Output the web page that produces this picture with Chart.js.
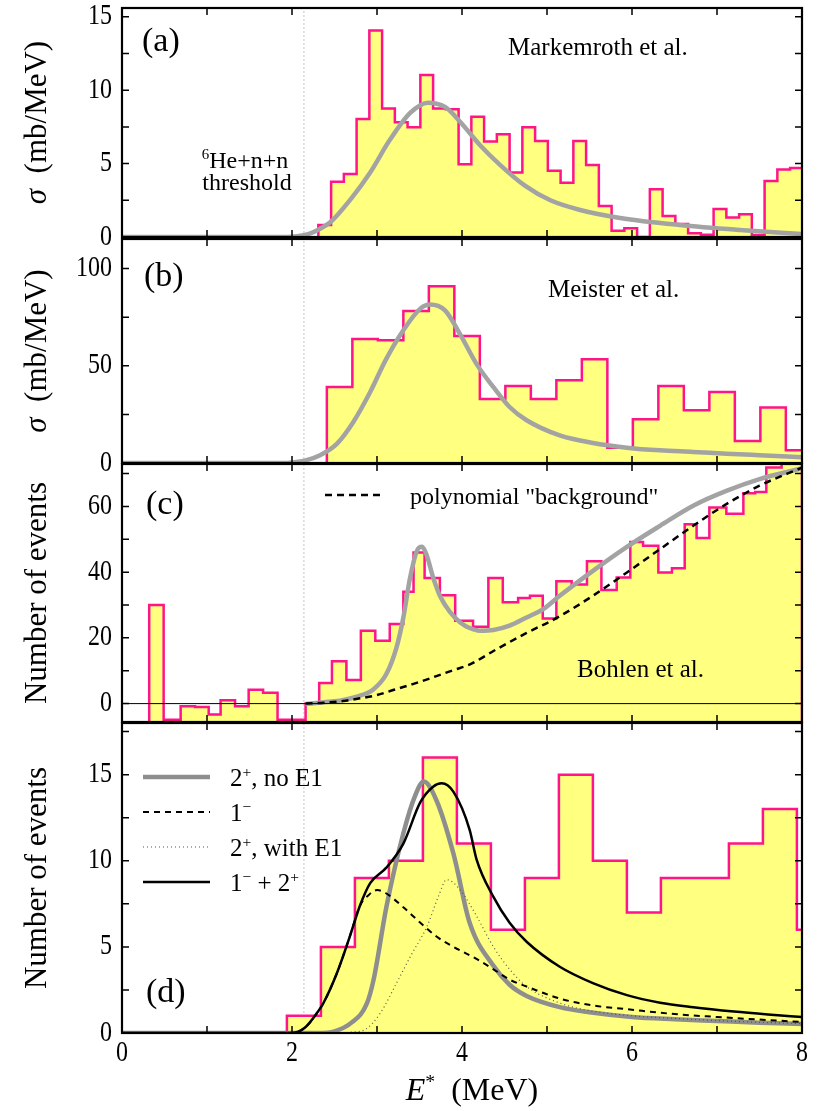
<!DOCTYPE html>
<html>
<head>
<meta charset="utf-8">
<script src="https://cdn.jsdelivr.net/npm/chart.js@4.4.1/dist/chart.umd.min.js"></script>
<style>
  html, body { margin: 0; padding: 0; background: #fff; }
  #wrap { position: relative; width: 817px; height: 1111px; overflow: hidden; }
  #wrap canvas { position: absolute; left: 0; }
</style>
</head>
<body>
<div id="wrap">
  <canvas id="pa"></canvas>
  <canvas id="pb"></canvas>
  <canvas id="pc"></canvas>
  <canvas id="pd"></canvas>
</div>
<script>
// ---- data (E* in MeV) ----
const threshold = 2.14;               // 6He+n+n threshold
const xRange = [0, 8];
const xTickMarks = [0, 1, 2, 3, 4, 5, 6, 7, 8];
const xTickLabels = [0, 2, 4, 6, 8];

// (a) Markemroth et al., sigma in mb/MeV
const aBinStart = 2.31, aBinWidth = 0.15;
const aCounts = [0.82, 3.77, 4.3, 8.04, 14.06, 8.75, 7.82, 7.48, 11.04, 8.75, 8.7, 4.95, 8.2, 6.5, 7.0, 4.4,
  7.48, 6.54, 4.52, 3.7, 6.54, 4.9, 2.11, 0.43, 0.6, 0, 3.25, 1.43, 0.89, 0.25, 0.15, 1.9, 1.32, 1.55, 0.14,
  3.82, 4.6, 4.7];
const aFitE = [0, 1.9, 2.0, 2.1, 2.2, 2.31, 2.45, 2.68, 2.92, 3.15, 3.39, 3.6, 3.8, 3.98, 4.21, 4.45, 4.74,
  5.04, 5.39, 5.86, 6.56, 7.27, 8.0];
const aFitY = [0, 0, 0.02, 0.08, 0.22, 0.5, 1.0, 2.5, 4.4, 6.6, 8.45, 9.15, 8.86, 7.84, 6.27, 4.9, 3.5, 2.5,
  1.84, 1.3, 0.82, 0.48, 0.2];
const aTickMarks = [0, 2.5, 5, 7.5, 10, 12.5, 15];
const aTickLabels = [0, 5, 10, 15];

// (b) Meister et al., sigma in mb/MeV
const bBinStart = 2.41, bBinWidth = 0.3;
const bCounts = [39.1, 63.8, 63.1, 78.2, 90.9, 65.3, 32.9, 39.6, 32.9, 42.5, 53.3, 7.9, 22.5, 39.6, 27.1,
  36.5, 11.3, 28.5, 6.5];
const bFitE = [0, 1.9, 2.0, 2.15, 2.33, 2.53, 2.72, 2.92, 3.1, 3.31, 3.51, 3.62, 3.8, 3.98, 4.17, 4.37, 4.56,
  4.76, 5.15, 5.54, 5.94, 6.33, 6.72, 7.11, 7.5, 8.0];
const bFitY = [0, 0, 0.3, 1.2, 4, 10, 21, 36.5, 52.8, 68.3, 79.4, 81.5, 78.5, 66, 51, 39, 28.8, 22, 14.2,
  10.3, 7.9, 6.5, 5.7, 4.8, 4.0, 3.0];
const bTickMarks = [0, 25, 50, 75, 100];
const bTickLabels = [0, 50, 100];

// (c) Bohlen et al., number of events
const cEdges = [0.32, 0.49, 0.69, 0.86, 1.02, 1.16, 1.33, 1.49, 1.66, 1.83, 2.00, 2.16, 2.32, 2.47, 2.64,
  2.81, 2.98, 3.15, 3.31, 3.43, 3.56, 3.74, 3.92, 4.13, 4.31, 4.48, 4.66, 4.80, 4.95, 5.11, 5.29, 5.47, 5.64,
  5.82, 5.98, 6.13, 6.31, 6.47, 6.62, 6.76, 6.91, 7.11, 7.31, 7.45, 7.58, 7.76, 8.00];
const cCounts = [30, -4.9, -0.8, -1.0, -3.3, 1.0, -0.8, 4.2, 3.3, -4.9, -4.9, 0, 6.3, 12.9, 7.2, 22.2, 19.1,
  24.2, 34.0, 46.0, 38.2, 33.0, 25.2, 23.4, 38.2, 30.8, 32.1, 32.8, 25.9, 37.2, 36.2, 43.3, 34.6, 38.4, 49.2,
  48.0, 39.9, 41.2, 54.6, 50.4, 59.7, 57.8, 64.0, 64.4, 71.8, 77];
const cFitE = [2.16, 2.37, 2.56, 2.76, 2.96, 3.11, 3.23, 3.31, 3.39, 3.47, 3.53, 3.58, 3.66, 3.74, 3.86, 3.98,
  4.09, 4.21, 4.37, 4.56, 4.76, 4.96, 5.15, 5.54, 5.94, 6.33, 6.72, 7.11, 7.5, 8.0];
const cFitY = [-0.1, 0.4, 0.9, 2.1, 4.4, 9.0, 17.1, 26.2, 38.4, 46.5, 47.7, 45.5, 38.4, 32.8, 27.8, 24.7,
  23.0, 22.2, 22.4, 23.7, 26.2, 28.8, 32.8, 40.4, 47.7, 54.1, 60.2, 64.7, 68.3, 71.6];
const cBackE = [2.16, 2.4, 2.6, 2.8, 3.0, 3.2, 3.43, 3.66, 3.9, 4.1, 4.37, 4.76, 5.11, 5.54, 5.94, 6.33, 6.72,
  7.11, 7.5, 8.0];
const cBackY = [0, 0.3, 0.8, 1.6, 2.6, 4.2, 6.0, 8.0, 10.2, 12.0, 16.0, 21.5, 26.0, 32.8, 39.9, 47.0, 54.1,
  60.7, 66.3, 71.8];
const cTickMarks = [0, 10, 20, 30, 40, 50, 60, 70];
const cTickLabels = [0, 20, 40, 60];

// (d) number of events with 1- / 2+ fits
const dBinStart = 1.94, dBinWidth = 0.4;
const dCounts = [1, 5, 9, 10, 16, 11, 6, 9, 15, 10, 7, 9, 9, 11, 13, 6];
const dNoE1E = [0, 2.3, 2.5, 2.7, 2.88, 2.96, 3.11, 3.31, 3.45, 3.55, 3.70, 3.9, 4.09, 4.37, 4.56, 4.76,
  5.15, 5.5, 6.0, 6.5, 7.0, 7.5, 8.0];
const dNoE1Y = [0, 0, 0.1, 0.6, 1.7, 3.1, 7.3, 11.6, 13.8, 14.6, 13.5, 10.4, 6.4, 3.9, 2.8, 2.15, 1.5, 1.2,
  0.93, 0.8, 0.7, 0.6, 0.52];
const dMinusE = [0, 2.0, 2.15, 2.3, 2.37, 2.53, 2.68, 2.8, 2.9, 3.0, 3.11, 3.31, 3.51, 3.7, 3.9, 4.17, 4.37,
  4.56, 4.76, 5.15, 5.54, 6.0, 6.5, 7.0, 7.5, 8.0];
const dMinusY = [0, 0, 0.3, 1.2, 1.74, 3.5, 5.6, 7.4, 8.0, 8.3, 8.1, 7.3, 6.4, 5.6, 5.0, 4.3, 3.7, 3.1, 2.7,
  2.0, 1.6, 1.35, 1.1, 0.93, 0.78, 0.64];
const dWithE1E = [2.55, 2.7, 2.86, 3.04, 3.23, 3.41, 3.59, 3.72, 3.82, 3.98, 4.17, 4.37, 4.56, 4.76, 5.15,
  5.5, 6.0, 6.5, 7.0, 7.5, 8.0];
const dWithE1Y = [0, 0.05, 0.2, 1.16, 2.9, 4.6, 6.2, 7.9, 8.9, 8.3, 6.8, 5.0, 3.7, 2.7, 1.74, 1.3, 1.0, 0.85,
  0.72, 0.62, 0.55];
const dSumE = [0, 2.0, 2.15, 2.3, 2.37, 2.53, 2.68, 2.8, 2.92, 3.11, 3.31, 3.51, 3.66, 3.76, 3.9, 4.09, 4.17,
  4.37, 4.56, 4.76, 5.15, 5.54, 5.94, 6.33, 6.72, 7.2, 7.6, 8.0];
const dSumY = [0, 0, 0.3, 1.2, 1.74, 3.5, 5.6, 7.4, 8.7, 9.6, 11.0, 13.4, 14.3, 14.5, 14.0, 11.8, 10.1, 7.9,
  6.4, 5.3, 3.85, 2.9, 2.2, 1.76, 1.5, 1.25, 1.08, 0.93];
const dTickMarks = [0, 2.5, 5, 7.5, 10, 12.5, 15, 17.5];
const dTickLabels = [0, 5, 10, 15];

// ---- helpers ----
const serif = '"Liberation Serif", "DejaVu Serif", serif';
const pink = '#ff1589', yellow = '#ffff80', gray = '#a3a3a3';
const tickStretch = 1.2;   // tick numbers are drawn a bit taller than wide

function uniformEdges(start, width, n) {
  const e = [];
  for (let i = 0; i <= n; i++) e.push(start + i * width);
  return e;
}
function hist(edges, counts, base, leadX) {
  const pts = leadX === undefined ? [] : [{x: leadX, y: base}];
  pts.push({x: edges[0], y: base});
  counts.forEach((c, i) => pts.push({x: edges[i], y: c}));
  const n = counts.length;
  pts.push({x: edges[n], y: counts[n - 1]});
  pts.push({x: edges[n], y: base});
  return pts;
}
function curve(E, Y) { return E.map((e, i) => ({x: e, y: Y[i]})); }
function vline(x, lo, hi) { return [{x: x, y: lo}, {x: x, y: hi}]; }

function histSet(data) {
  return {data, borderColor: pink, borderWidth: 2.5, backgroundColor: yellow, fill: 'start',
    stepped: true, borderJoinStyle: 'miter'};
}
function fitSet(data, color, width, dash) {
  return {data, borderColor: color, borderWidth: width, borderDash: dash || [],
    fill: false, cubicInterpolationMode: 'monotone'};
}
function threshSet(lo, hi) {
  return {data: vline(threshold, lo, hi), borderColor: '#c4c4c4', borderWidth: 1, borderDash: [2, 2], fill: false};
}

// text with italic / superscript runs
function richText(ctx, parts, x, y, size, align) {
  const runs = parts.map(p => {
    const t = Array.isArray(p) ? p[0] : p;
    const f = Array.isArray(p) ? p[1] : '';
    const s = f.includes('s') ? size * 0.62 : size;
    const font = (f.includes('i') ? 'italic ' : '') + s + 'px ' + serif;
    ctx.font = font;
    return {t, font, w: ctx.measureText(t).width, dy: f.includes('s') ? -size * 0.38 : 0};
  });
  const total = runs.reduce((s, r) => s + r.w, 0);
  let cx = align === 'center' ? x - total / 2 : x;
  ctx.textAlign = 'left';
  runs.forEach(r => { ctx.font = r.font; ctx.fillText(r.t, cx, y + r.dy); cx += r.w; });
}
function tickText(ctx, txt, x, y, align) {
  ctx.save();
  ctx.translate(x, y);
  ctx.scale(1, tickStretch);
  ctx.textAlign = align;
  ctx.textBaseline = 'middle';
  ctx.font = '24px ' + serif;
  ctx.fillText(txt, 0, 0);
  ctx.restore();
}

// frame, inward ticks, tick labels, annotations, legends
const decoPlugin = {
  id: 'deco',
  afterDraw(chart, args, o) {
    const {ctx, chartArea: a, scales: {x, y}} = chart;
    ctx.save();
    ctx.strokeStyle = '#000';
    ctx.lineWidth = 1.5;
    ctx.beginPath();
    xTickMarks.forEach(v => {
      const px = x.getPixelForValue(v);
      ctx.moveTo(px, a.top); ctx.lineTo(px, a.top + 7);
      ctx.moveTo(px, a.bottom); ctx.lineTo(px, a.bottom - 7);
    });
    o.yTicks.forEach(v => {
      const py = y.getPixelForValue(v);
      ctx.moveTo(a.left, py); ctx.lineTo(a.left + 7, py);
      ctx.moveTo(a.right, py); ctx.lineTo(a.right - 7, py);
    });
    ctx.stroke();
    ctx.lineWidth = 2.2;
    ctx.strokeRect(a.left, a.top, a.right - a.left, a.bottom - a.top);

    ctx.fillStyle = '#000';
    o.yLabels.forEach(v => tickText(ctx, String(v), a.left - 10, y.getPixelForValue(v), 'right'));
    if (o.xLabels) o.xLabels.forEach(v => tickText(ctx, String(v), x.getPixelForValue(v), a.bottom + 20, 'center'));

    ctx.textBaseline = 'alphabetic';
    (o.texts || []).forEach(t =>
      richText(ctx, t.parts, a.left + t.dx, a.top + t.dy, t.size, t.align || 'left'));
    (o.legend || []).forEach(l => {
      const ds = chart.data.datasets[l.ds];
      ctx.save();
      ctx.strokeStyle = ds.borderColor;
      ctx.lineWidth = ds.borderWidth;
      ctx.setLineDash(ds.borderDash || []);
      ctx.beginPath();
      ctx.moveTo(a.left + l.x0, a.top + l.dy);
      ctx.lineTo(a.left + l.x1, a.top + l.dy);
      ctx.stroke();
      ctx.restore();
      richText(ctx, l.parts, a.left + l.tx, a.top + l.dy + 9, l.size, 'left');
    });
    ctx.translate(46, (a.top + a.bottom) / 2);
    ctx.rotate(-Math.PI / 2);
    richText(ctx, o.yTitle, 0, 0, 31, 'center');
    ctx.restore();
  }
};

function makePanel(id, top, height, padTop, padBottom, yMin, yMax, datasets, deco) {
  const cv = document.getElementById(id);
  cv.width = 817;
  cv.height = height;
  cv.style.top = top + 'px';
  return new Chart(cv, {
    type: 'line',
    data: {datasets},
    options: {
      responsive: false,
      animation: false,
      events: [],
      layout: {padding: {top: padTop, bottom: padBottom, left: 0, right: 15}},
      elements: {point: {radius: 0}},
      plugins: {legend: {display: false}, tooltip: {enabled: false}, deco},
      scales: {
        x: {type: 'linear', min: xRange[0], max: xRange[1], display: false},
        y: {
          type: 'linear', min: yMin, max: yMax,
          grid: {display: false, drawTicks: false}, border: {display: false},
          ticks: {display: false},
          afterFit: s => { s.width = 122; }
        }
      }
    },
    plugins: [decoPlugin]
  });
}

const sigmaTitle = [['σ', 'i'], '  (mb/MeV)'];
const eventsTitle = ['Number of events'];

// (a)
const aMin = 0, aMax = 15.6;
makePanel('pa', -22, 289, 30, 30, aMin, aMax, [
  fitSet(curve(aFitE, aFitY), gray, 4.5),
  histSet(hist(uniformEdges(aBinStart, aBinWidth, aCounts.length), aCounts, 0)),
  threshSet(aMin, aMax)
], {
  yTicks: aTickMarks, yLabels: aTickLabels, yTitle: sigmaTitle,
  texts: [
    {parts: ['(a)'], dx: 20, dy: 43, size: 34},
    {parts: ['Markemroth et al.'], dx: 386, dy: 47, size: 25},
    {parts: [['6', 's'], 'He+n+n'], dx: 123, dy: 160, size: 24, align: 'center'},
    {parts: ['threshold'], dx: 125, dy: 182, size: 24, align: 'center'}
  ]
});

// (b)
const bMin = 0, bMax = 115.2;
makePanel('pb', 209, 284, 30, 30, bMin, bMax, [
  fitSet(curve(bFitE, bFitY), gray, 4.5),
  histSet(hist(uniformEdges(bBinStart, bBinWidth, bCounts.length), bCounts, 0)),
  threshSet(bMin, bMax)
], {
  yTicks: bTickMarks, yLabels: bTickLabels, yTitle: sigmaTitle,
  texts: [
    {parts: ['(b)'], dx: 22, dy: 47, size: 34},
    {parts: ['Meister et al.'], dx: 426, dy: 58, size: 25}
  ]
});

// (c)
const cMin = -5.6, cMax = 72.9;
makePanel('pc', 434, 318, 30, 30, cMin, cMax, [
  {data: curve(xRange, [0, 0]), borderColor: '#000', borderWidth: 1, fill: false},
  fitSet(curve(cBackE, cBackY), '#000', 2.5, [7, 5]),
  fitSet(curve(cFitE, cFitY), gray, 4.5),
  histSet(hist(cEdges, cCounts, cMin)),
  threshSet(cMin, cMax)
], {
  yTicks: cTickMarks, yLabels: cTickLabels, yTitle: eventsTitle,
  texts: [
    {parts: ['(c)'], dx: 24, dy: 50, size: 34},
    {parts: ['Bohlen et al.'], dx: 455, dy: 213, size: 25}
  ],
  legend: [
    {ds: 1, x0: 203, x1: 261, dy: 31, tx: 288, size: 24, parts: ['polynomial "background"']}
  ]
});

// (d)
const dMin = 0, dMax = 18;
makePanel('pd', 693, 418, 30, 78, dMin, dMax, [
  fitSet(curve(dSumE, dSumY), '#000', 2.5),
  fitSet(curve(dMinusE, dMinusY), '#000', 2, [6, 5]),
  fitSet(curve(dWithE1E, dWithE1Y), '#555', 1.2, [1, 3]),
  fitSet(curve(dNoE1E, dNoE1Y), '#8e8e8e', 4.5),
  histSet(hist(uniformEdges(dBinStart, dBinWidth, dCounts.length), dCounts, 0, 0)),
  threshSet(dMin, dMax)
], {
  yTicks: dTickMarks, yLabels: dTickLabels, xLabels: xTickLabels, yTitle: eventsTitle,
  texts: [
    {parts: ['(d)'], dx: 24, dy: 279, size: 34},
    {parts: [['E', 'i'], ['*', 's'], '  (MeV)'], dx: 350, dy: 377, size: 32, align: 'center'}
  ],
  legend: [
    {ds: 3, x0: 21, x1: 88, dy: 54, tx: 108, size: 25, parts: ['2', ['+', 's'], ', no E1']},
    {ds: 1, x0: 21, x1: 88, dy: 89, tx: 108, size: 25, parts: ['1', ['−', 's']]},
    {ds: 2, x0: 21, x1: 88, dy: 124, tx: 108, size: 25, parts: ['2', ['+', 's'], ', with E1']},
    {ds: 0, x0: 21, x1: 88, dy: 159, tx: 108, size: 25, parts: ['1', ['−', 's'], ' + 2', ['+', 's']]}
  ]
});
</script>
</body>
</html>
